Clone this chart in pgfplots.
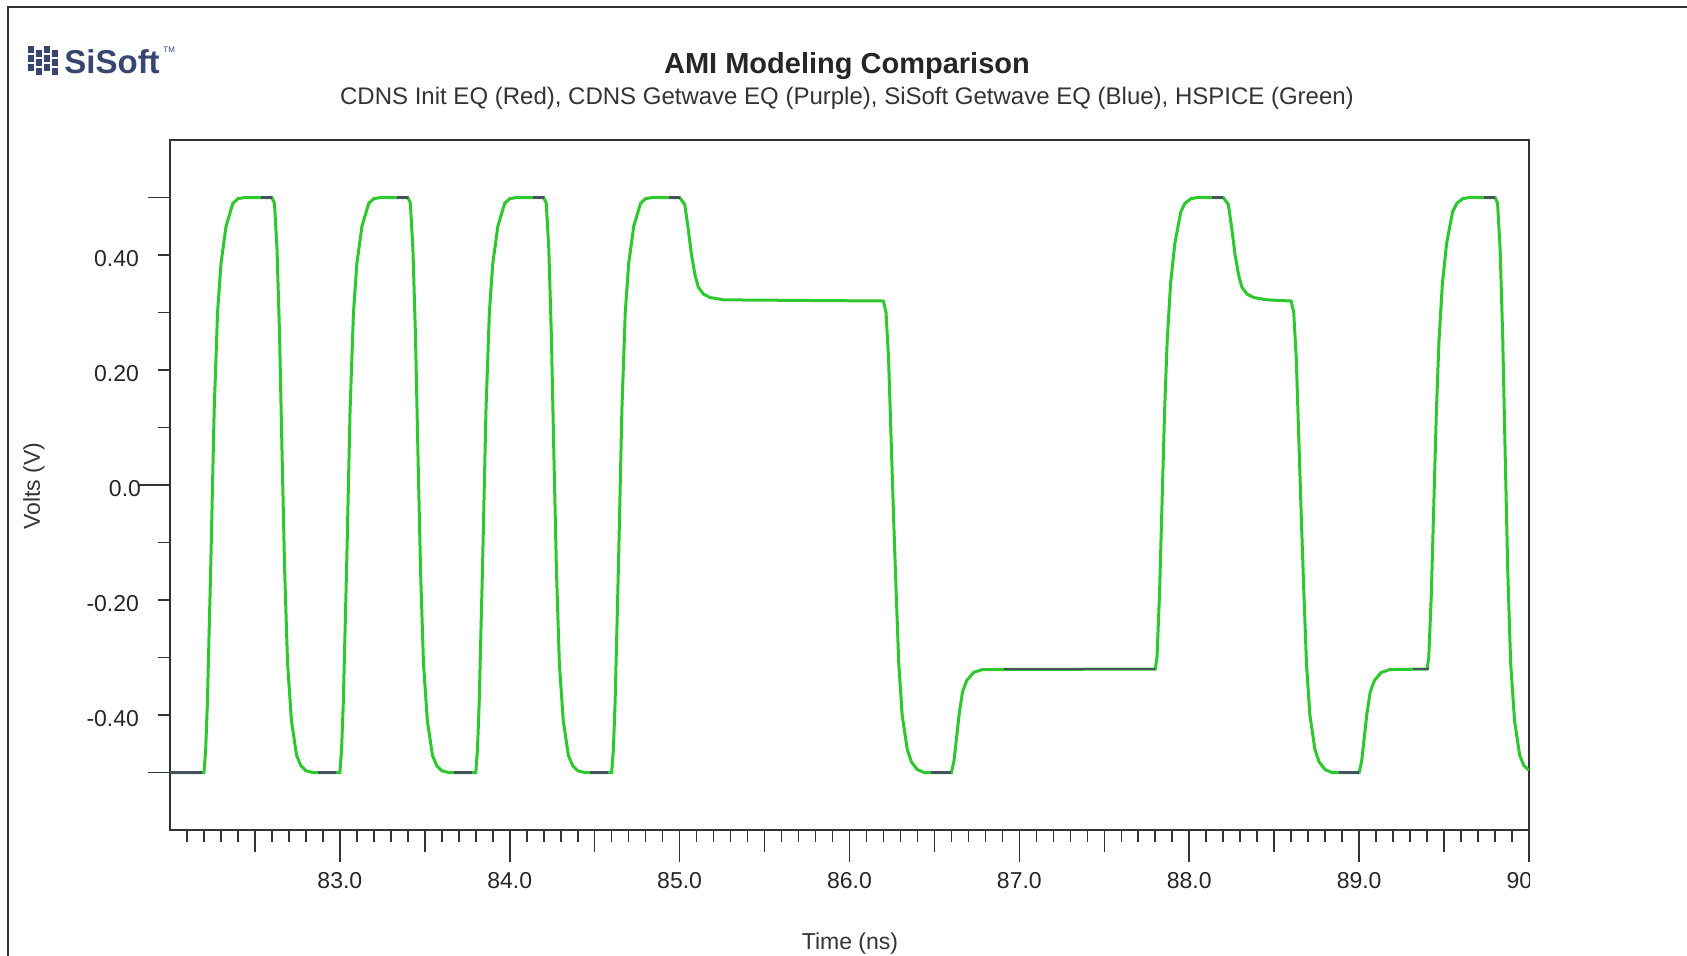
\documentclass[border=0pt]{standalone}
\usepackage{pgfplots}
\pgfplotsset{compat=1.18}
\usepackage{pgfplotstable}
\usepackage{fontspec}
\setmainfont{Liberation Sans}
\definecolor{hspice}{RGB}{45,200,45}
\definecolor{other}{RGB}{70,82,92}
\definecolor{logo}{RGB}{55,70,112}

\pgfplotstableread{
t v
82.000 -0.50
82.200 -0.50
82.210 -0.46
82.220 -0.38
82.240 -0.14
82.260 0.13
82.280 0.30
82.300 0.385
82.330 0.45
82.370 0.49
82.400 0.498
82.440 0.50
82.600 0.50
82.615 0.49
82.630 0.41
82.645 0.26
82.660 0.05
82.675 -0.15
82.692 -0.31
82.715 -0.41
82.745 -0.47
82.770 -0.488
82.800 -0.497
82.840 -0.50
83.000 -0.50
83.010 -0.46
83.020 -0.38
83.040 -0.14
83.060 0.13
83.080 0.30
83.100 0.385
83.130 0.45
83.170 0.49
83.200 0.498
83.240 0.50
83.400 0.50
83.415 0.49
83.430 0.41
83.445 0.26
83.460 0.05
83.475 -0.15
83.492 -0.31
83.515 -0.41
83.545 -0.47
83.570 -0.488
83.600 -0.497
83.640 -0.50
83.800 -0.50
83.810 -0.46
83.820 -0.38
83.840 -0.14
83.860 0.13
83.880 0.30
83.900 0.385
83.930 0.45
83.970 0.49
84.000 0.498
84.040 0.50
84.200 0.50
84.215 0.49
84.230 0.41
84.245 0.26
84.260 0.05
84.275 -0.15
84.292 -0.31
84.315 -0.41
84.345 -0.47
84.370 -0.488
84.400 -0.497
84.440 -0.50
84.600 -0.50
84.610 -0.46
84.620 -0.38
84.640 -0.14
84.660 0.13
84.680 0.30
84.700 0.385
84.730 0.45
84.770 0.49
84.800 0.498
84.840 0.50
85.000 0.50
85.030 0.488
85.050 0.447
85.070 0.40
85.090 0.366
85.110 0.344
85.140 0.332
85.180 0.326
85.260 0.322
86.200 0.320
86.215 0.30
86.230 0.22
86.245 0.08
86.260 -0.06
86.275 -0.19
86.290 -0.31
86.310 -0.40
86.340 -0.46
86.365 -0.482
86.400 -0.495
86.440 -0.50
86.600 -0.50
86.615 -0.48
86.630 -0.44
86.645 -0.40
86.665 -0.36
86.690 -0.34
86.730 -0.326
86.780 -0.321
87.800 -0.320
87.810 -0.30
87.825 -0.19
87.840 -0.03
87.855 0.13
87.870 0.25
87.890 0.35
87.915 0.42
87.950 0.475
87.975 0.490
88.010 0.498
88.050 0.50
88.200 0.50
88.230 0.488
88.250 0.447
88.270 0.40
88.290 0.366
88.310 0.344
88.340 0.332
88.380 0.326
88.460 0.322
88.600 0.320
88.615 0.30
88.630 0.22
88.645 0.08
88.660 -0.06
88.675 -0.19
88.690 -0.31
88.710 -0.40
88.740 -0.46
88.765 -0.482
88.800 -0.495
88.840 -0.50
89.000 -0.50
89.015 -0.48
89.030 -0.44
89.045 -0.40
89.065 -0.36
89.090 -0.34
89.130 -0.326
89.180 -0.321
89.400 -0.320
89.410 -0.30
89.425 -0.19
89.440 -0.03
89.455 0.13
89.470 0.25
89.490 0.35
89.515 0.42
89.550 0.475
89.575 0.490
89.610 0.498
89.650 0.50
89.800 0.50
89.815 0.49
89.830 0.41
89.845 0.26
89.860 0.05
89.875 -0.15
89.892 -0.31
89.915 -0.41
89.945 -0.47
89.970 -0.488
90.000 -0.496
}\hspicedata

\begin{document}
\begin{tikzpicture}
\path[use as bounding box] (0,0) rectangle (843.5bp,-478bp);
\begin{scope}[x=0.5bp,y=-0.5bp]
\draw[line width=1bp, black!80] (8,980) -- (8,7) -- (1700,7);
% logo
\foreach \cx/\ys in {31/0, 39/4, 47/0, 55/4}{
  \foreach \k in {0,1,2}{
    \draw[logo, line width=2.6bp] (\cx,46+\ys+\k*9) -- (\cx,53+\ys+\k*9);
  }
}
\node[anchor=west, inner sep=0pt, text=logo, font=\bfseries\fontsize{16.5bp}{18bp}\selectfont] at (64,62) {SiSoft};
\node[anchor=west, inner sep=0pt, text=logo, font=\fontsize{4bp}{5bp}\selectfont] at (163,50) {TM};
% titles
\node[text=black!85, font=\bfseries\fontsize{14.5bp}{16bp}\selectfont] at (847,66) {AMI Modeling Comparison};
\node[text=black!80, font=\fontsize{12bp}{14bp}\selectfont] at (847,98) {CDNS Init EQ (Red), CDNS Getwave EQ (Purple), SiSoft Getwave EQ (Blue), HSPICE (Green)};
\node[rotate=90, text=black!80, font=\fontsize{11.5bp}{13bp}\selectfont] at (34,486) {Volts (V)};
\node[text=black!80, font=\fontsize{11.5bp}{13bp}\selectfont] at (850,944) {Time (ns)};
\end{scope}
\begin{axis}[
  at={(85bp,-415bp)}, anchor=south west,
  width=679.5bp, height=345bp, scale only axis,
  xmin=82, xmax=90, ymin=-0.6, ymax=0.6,
  axis line style={black!80, line width=1bp},
  every tick/.style={black!80, line width=0.8bp},
  tick align=outside, xtick pos=lower, ytick pos=left,
  major tick length=16bp, minor tick length=6bp,
  xtick={83,84,85,86,87,88,89,90},
  xticklabels={83.0,84.0,85.0,86.0,87.0,88.0,89.0,90.0},
  xticklabel style={yshift=-1.6bp},
  minor xtick={82.1,82.2,...,89.95},
  extra x ticks={82.5,83.5,84.5,85.5,86.5,87.5,88.5,89.5},
  extra x tick labels={},
  extra x tick style={major tick length=11bp},
  ytick={0}, yticklabels={0.0},
  yticklabel style={xshift=5bp, yshift=-2bp},
  minor ytick={-0.5,-0.4,-0.3,-0.2,-0.1,0.1,0.2,0.3,0.4,0.5},
  extra y ticks={-0.4,-0.2,0.2,0.4},
  extra y tick labels={-0.40,-0.20,0.20,0.40},
  extra y tick style={major tick length=6bp, yticklabel style={xshift=-11bp}},
  ticklabel style={text=black!85, font=\fontsize{11.5bp}{13bp}\selectfont},
  /pgf/number format/assume math mode=true,
  unbounded coords=jump,
]
\addplot[hspice, line width=1.5bp] table[x=t,y=v]{\hspicedata};
\addplot[other, line width=1.3bp] coordinates {
(82.00,-0.5)(82.19,-0.5)(nan,nan)
(82.535,0.5)(82.6,0.5)(nan,nan)
(82.87,-0.5)(82.98,-0.5)(nan,nan)
(83.335,0.5)(83.4,0.5)(nan,nan)
(83.67,-0.5)(83.78,-0.5)(nan,nan)
(84.135,0.5)(84.2,0.5)(nan,nan)
(84.47,-0.5)(84.58,-0.5)(nan,nan)
(84.935,0.5)(85.0,0.5)(nan,nan)
(86.48,-0.5)(86.6,-0.5)(nan,nan)
(86.91,-0.32)(87.8,-0.32)(nan,nan)
(88.135,0.5)(88.2,0.5)(nan,nan)
(88.88,-0.5)(89.0,-0.5)(nan,nan)
(89.32,-0.32)(89.41,-0.32)(nan,nan)
(89.735,0.5)(89.8,0.5)
};
\coordinate (ytp) at (axis cs:82,0.5);
\coordinate (ytm) at (axis cs:82,-0.5);
\coordinate (clipc) at (axis cs:90,-0.6);
\end{axis}
\draw[black!80, line width=0.8bp] (ytp) -- ++(-11bp,0);
\draw[black!80, line width=0.8bp] (ytm) -- ++(-11bp,0);
\fill[white] ([shift={(0.3bp,-17bp)}]clipc) rectangle ++(40bp,-20bp);
\end{tikzpicture}
\end{document}
